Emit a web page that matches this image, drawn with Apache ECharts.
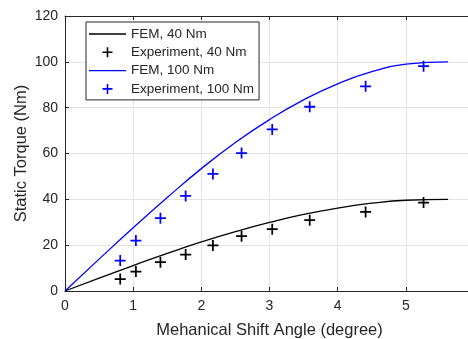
<!DOCTYPE html>
<html>
<head>
<meta charset="utf-8">
<script src="https://cdn.jsdelivr.net/npm/echarts@6/dist/echarts.min.js"></script>
<style>
  html, body { margin: 0; padding: 0; background: #fff; }
  #chart { width: 468px; height: 339px; }
</style>
</head>
<body>
<div id="chart"></div>
<script>
"use strict";

// FEM curves
var femAngle = [0, 0.5, 1, 1.5, 2, 2.5, 3, 3.5, 4, 4.5, 5, 5.62];
var fem40 = [0, 5.6, 11.1, 16.4, 21.4, 25.9, 29.9, 33.4, 36.2, 38.3, 39.6, 40.0];
var fem100 = [0, 13.9, 27.6, 40.8, 53.4, 64.8, 74.8, 83.4, 90.4, 95.7, 99.0, 100.0];

// measured points
var expAngle = [0.81, 1.04, 1.40, 1.77, 2.17, 2.59, 3.04, 3.59, 4.41, 5.26];
var exp40 = [5.2, 8.5, 12.6, 15.9, 19.9, 23.9, 27.0, 30.9, 34.5, 38.6];
var exp100 = [13.3, 22.0, 31.8, 41.5, 51.1, 60.2, 70.5, 80.4, 89.3, 98.1];

var seriesNames = ['FEM, 40 Nm', 'Experiment, 40 Nm', 'FEM, 100 Nm', 'Experiment, 100 Nm'];
var xTitle = 'Mehanical Shift Angle (degree)';
var yTitle = 'Static Torque (Nm)';

var plusPath = 'path://M4.2,0H5.8V4.2H10V5.8H5.8V10H4.2V5.8H0V4.2H4.2Z';
var linePath = 'path://M0,0H37V1.3H0Z';
var fontFam = '"Liberation Sans", Arial, sans-serif';
var axisColor = '#262626';

function pairs(xs, ys) {
  return xs.map(function (x, i) { return [x, ys[i]]; });
}

var chart = echarts.init(document.getElementById('chart'));

var option = {
  animation: false,
  backgroundColor: '#fff',
  textStyle: { fontFamily: fontFam },
  grid: { left: 65, right: -6, top: 16, bottom: 48, containLabel: false, outerBoundsMode: 'none' },
  legend: {
    data: seriesNames.map(function (n, i) {
      return { name: n, icon: i % 2 === 0 ? linePath : plusPath };
    }),
    orient: 'vertical',
    left: 86,
    top: 22,
    padding: [5, 5, 4, 3],
    itemWidth: 37,
    itemHeight: 10,
    itemGap: 4.3,
    backgroundColor: '#fff',
    borderColor: axisColor,
    borderWidth: 1,
    borderRadius: 0,
    selectedMode: false,
    textStyle: { fontSize: 13.5, color: axisColor, lineHeight: 14, fontFamily: fontFam }
  },
  xAxis: [{
    type: 'value',
    min: 0,
    max: 6,
    interval: 1,
    name: xTitle,
    nameLocation: 'middle',
    nameGap: 31,
    nameMoveOverlap: false,
    nameTextStyle: { fontSize: 16.5, color: axisColor },
    axisLine: { lineStyle: { color: axisColor, width: 1 } },
    axisTick: { inside: true, length: 4, lineStyle: { color: axisColor } },
    axisLabel: { fontSize: 14, color: axisColor, margin: 8, showMaxLabel: false },
    splitLine: { show: true, lineStyle: { color: '#e3e3e3', width: 1 } }
  }, {
    type: 'value',
    position: 'top',
    min: 0,
    max: 6,
    interval: 1,
    axisLine: { lineStyle: { color: axisColor, width: 1 } },
    axisTick: { inside: true, length: 4, lineStyle: { color: axisColor } },
    axisLabel: { show: false },
    splitLine: { show: false }
  }],
  yAxis: {
    type: 'value',
    min: 0,
    max: 120,
    interval: 20,
    name: yTitle,
    nameLocation: 'middle',
    nameGap: 35,
    nameMoveOverlap: false,
    nameTextStyle: { fontSize: 16.5, color: axisColor },
    axisLine: { show: true, lineStyle: { color: axisColor, width: 1 } },
    axisTick: { show: true, inside: true, length: 4, lineStyle: { color: axisColor } },
    axisLabel: { fontSize: 14, color: axisColor, margin: 7 },
    splitLine: { show: true, lineStyle: { color: '#e3e3e3', width: 1 } }
  },
  series: [{
    name: seriesNames[0],
    type: 'line',
    data: pairs(femAngle, fem40),
    smooth: true,
    symbol: 'none',
    color: '#000',
    lineStyle: { color: '#000', width: 1.3 }
  }, {
    name: seriesNames[1],
    type: 'scatter',
    data: pairs(expAngle, exp40),
    symbol: plusPath,
    symbolSize: 11,
    itemStyle: { color: '#000', opacity: 1 }
  }, {
    name: seriesNames[2],
    type: 'line',
    data: pairs(femAngle, fem100),
    smooth: true,
    symbol: 'none',
    color: '#0000ff',
    lineStyle: { color: '#0000ff', width: 1.3 }
  }, {
    name: seriesNames[3],
    type: 'scatter',
    data: pairs(expAngle, exp100),
    symbol: plusPath,
    symbolSize: 11,
    itemStyle: { color: '#0000ff', opacity: 1 }
  }]
};

chart.setOption(option);
</script>
</body>
</html>
